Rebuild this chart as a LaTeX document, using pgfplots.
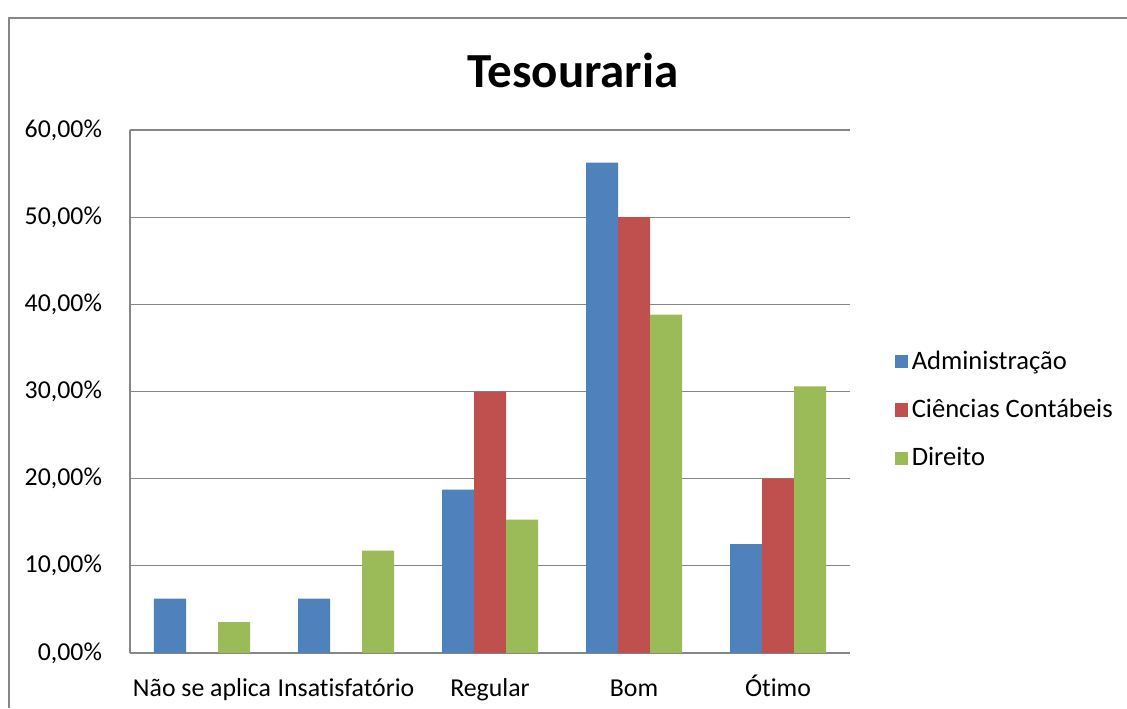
\documentclass[border=0pt]{standalone}
\usepackage{fontspec}
\setmainfont{Carlito}[Ligatures={NoCommon}]
\usepackage{pgfplots}
\pgfplotsset{compat=1.18}
\definecolor{admBlue}{HTML}{4F81BD}
\definecolor{ccRed}{HTML}{C0504D}
\definecolor{dirGreen}{HTML}{9BBB59}
\definecolor{xlGray}{HTML}{868686}

\begin{document}
\begin{tikzpicture}
% chart area is 1127 x 708 px, 1 px = 0.5pt
\useasboundingbox (0,0) rectangle (563.5pt,354pt);
\draw[xlGray, line width=0.7pt] (4.5pt,0) -- (4.5pt,345pt) -- (563.5pt,345pt);
\node[font=\fontsize{24.5}{28}\selectfont\bfseries] at (286.5pt,319pt) {Tesouraria};
\begin{axis}[
  at={(65pt,27.5pt)}, anchor=south west,
  scale only axis, width=360pt, height=261.5pt,
  ybar=0pt, bar width=16pt,
  xmin=-0.5, xmax=4.5,
  ymin=0, ymax=60,
  xtick=data,
  xticklabels={N\~ao se aplica, Insatisfat\'orio, Regular, Bom, \'Otimo},
  ytick={0,10,20,30,40,50,60},
  yticklabels={{0,00\%},{10,00\%},{20,00\%},{30,00\%},{40,00\%},{50,00\%},{60,00\%}},
  major tick length=0pt,
  axis x line*=bottom, axis y line*=left,
  axis line style={xlGray, line width=0.6pt},
  ymajorgrids, grid style={xlGray, line width=0.6pt},
  xticklabel style={font=\fontsize{12.9}{15}\selectfont, anchor=base, yshift=-21.5pt},
  yticklabel style={font=\fontsize{12.9}{15}\selectfont, anchor=east, xshift=-10.5pt},
  legend style={at={(1.053,0.465)}, anchor=west, draw=none,
    font=\fontsize{13.3}{15.5}\selectfont, row sep=9.5pt,
    /tikz/every even column/.append style={column sep=3.8pt}},
  legend cell align=left,
  legend image code/.code={\fill[#1] (0pt,-3.3pt) rectangle (6.6pt,3.3pt);},
]
\addplot[fill=admBlue, draw=none] coordinates {(0,6.25) (1,6.25) (2,18.75) (3,56.25) (4,12.5)};
\addplot[fill=ccRed, draw=none] coordinates {(2,30) (3,50) (4,20)};
\addplot[fill=dirGreen, draw=none] coordinates {(0,3.53) (1,11.76) (2,15.29) (3,38.82) (4,30.59)};
\legend{Administra\c{c}\~ao, Ci\^encias Cont\'abeis, Direito}
\end{axis}
\end{tikzpicture}
\end{document}
